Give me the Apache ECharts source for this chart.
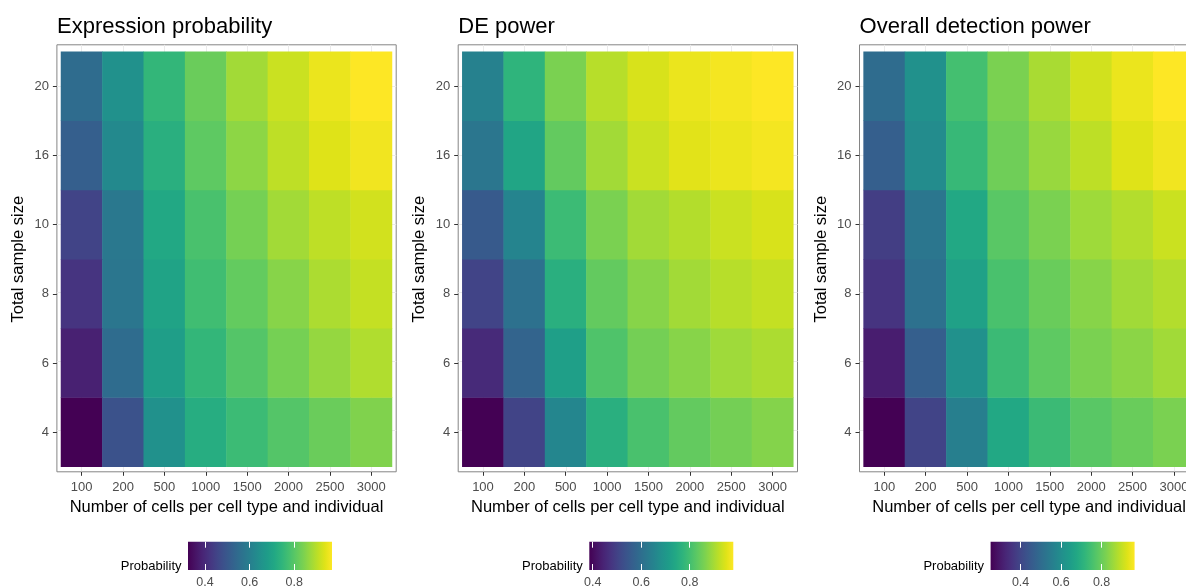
<!DOCTYPE html>
<html>
<head>
<meta charset="utf-8">
<script src="https://cdn.jsdelivr.net/npm/echarts@6/dist/echarts.min.js"></script>
<style>
  html, body { margin: 0; padding: 0; background: #fff; overflow: hidden; }
  #chart { width: 1210px; height: 587px; }
</style>
</head>
<body>
<div id="chart"></div>
<script>
// Categories
const cellCounts = ['100', '200', '500', '1000', '1500', '2000', '2500', '3000'];
const sampleSizes = ['4', '6', '8', '10', '16', '20'];

// Probabilities, one row per total sample size (4 ... 20), columns follow cellCounts
const expressionProb = [
  [0.324, 0.485, 0.647, 0.724, 0.763, 0.795, 0.821, 0.846],
  [0.382, 0.550, 0.685, 0.750, 0.795, 0.834, 0.866, 0.892],
  [0.421, 0.576, 0.698, 0.769, 0.814, 0.853, 0.888, 0.911],
  [0.453, 0.582, 0.711, 0.782, 0.834, 0.879, 0.905, 0.924],
  [0.518, 0.627, 0.730, 0.808, 0.859, 0.905, 0.937, 0.956],
  [0.550, 0.647, 0.750, 0.821, 0.879, 0.917, 0.950, 0.969]
];
const dePower = [
  [0.386, 0.505, 0.659, 0.760, 0.808, 0.837, 0.855, 0.870],
  [0.457, 0.576, 0.719, 0.814, 0.855, 0.873, 0.894, 0.906],
  [0.505, 0.606, 0.760, 0.837, 0.873, 0.897, 0.915, 0.927],
  [0.552, 0.653, 0.790, 0.861, 0.897, 0.912, 0.932, 0.944],
  [0.618, 0.736, 0.837, 0.897, 0.932, 0.953, 0.962, 0.971],
  [0.647, 0.772, 0.861, 0.915, 0.944, 0.962, 0.971, 0.980]
];
const overallPower = [
  [0.252, 0.394, 0.558, 0.679, 0.735, 0.778, 0.799, 0.821],
  [0.309, 0.465, 0.608, 0.735, 0.785, 0.821, 0.839, 0.863],
  [0.359, 0.515, 0.657, 0.757, 0.799, 0.835, 0.863, 0.881],
  [0.380, 0.529, 0.679, 0.778, 0.821, 0.860, 0.881, 0.906],
  [0.465, 0.593, 0.728, 0.807, 0.853, 0.892, 0.927, 0.949],
  [0.501, 0.608, 0.750, 0.821, 0.871, 0.913, 0.942, 0.963]
];

const panelTitles = ['Expression probability', 'DE power', 'Overall detection power'];
const panelValues = [expressionProb, dePower, overallPower];
const legendTicks = [0.4, 0.6, 0.8];

// Viridis palette
const viridis = [
  '#440154', '#471365', '#482475', '#463480', '#414487', '#3B528B', '#355F8D',
  '#2F6C8E', '#2A788E', '#25848E', '#21918C', '#1E9C89', '#22A884', '#2FB47C',
  '#44BF70', '#5EC962', '#7AD151', '#9BD93C', '#BDDF26', '#DFE318', '#FDE725'
];

const FONT = 'Liberation Sans, Arial, Helvetica, sans-serif';
const PANEL_STEP = 401.3;

const chart = echarts.init(document.getElementById('chart'), null, { renderer: 'canvas' });

const title = [], grid = [], xAxis = [], yAxis = [], series = [], visualMap = [], graphic = [];

panelValues.forEach((rows, p) => {
  const dx = p * PANEL_STEP;
  const flat = rows.flat();
  const lo = Math.min(...flat);
  const hi = Math.max(...flat);

  title.push({
    text: panelTitles[p],
    left: 52 + dx, top: 11,
    textStyle: { fontFamily: FONT, fontSize: 22, fontWeight: 'normal', color: '#000' }
  });

  // tile area
  const gTiles = grid.length;
  grid.push({ left: 61 + dx, top: 51.7, width: 331, height: 415,
              containLabel: false, outerBoundsMode: 'none' });
  // panel frame (with expansion around the tiles)
  const gFrame = grid.length;
  grid.push({ left: 56.9 + dx, top: 44.8, width: 339.3, height: 427, show: true,
              borderColor: '#858585', borderWidth: 1, backgroundColor: 'transparent',
              outerBoundsMode: 'none' });
  // colour bar
  const gBar = grid.length;
  grid.push({ left: 188 + dx, top: 541.7, width: 144, height: 28.3, outerBoundsMode: 'none' });

  // frame axes: carry the grid lines at category centres
  xAxis.push({
    gridIndex: gFrame, type: 'value', min: 0.4, max: 8.6,
    axisLine: { show: false }, axisLabel: { show: false },
    axisTick: { show: false, customValues: [1, 2, 3, 4, 5, 6, 7, 8] },
    splitLine: { show: true, lineStyle: { color: '#EBEBEB', width: 1 } }
  });
  yAxis.push({
    gridIndex: gFrame, type: 'value', min: 0.4, max: 6.6,
    axisLine: { show: false }, axisLabel: { show: false },
    axisTick: { show: false, customValues: [1, 2, 3, 4, 5, 6] },
    splitLine: { show: true, lineStyle: { color: '#EBEBEB', width: 1 } }
  });

  const xTiles = xAxis.length;
  xAxis.push({
    gridIndex: gTiles, type: 'category', data: cellCounts, offset: 5.1,
    name: 'Number of cells per cell type and individual',
    nameLocation: 'middle', nameGap: 26,
    nameTextStyle: { fontFamily: FONT, fontSize: 16.5, color: '#000' },
    axisLine: { show: false },
    axisTick: { show: true, alignWithLabel: true, length: 4, lineStyle: { color: '#333333' } },
    axisLabel: { fontFamily: FONT, fontSize: 13, color: '#4D4D4D', margin: 9, interval: 0 },
    splitLine: { show: false }
  });
  const yTiles = yAxis.length;
  yAxis.push({
    gridIndex: gTiles, type: 'category', data: sampleSizes, offset: 4.1,
    name: 'Total sample size', nameLocation: 'middle', nameGap: 30,
    nameTextStyle: { fontFamily: FONT, fontSize: 16.5, color: '#000' },
    axisLine: { show: false },
    axisTick: { show: true, alignWithLabel: true, length: 4, lineStyle: { color: '#333333' } },
    axisLabel: { fontFamily: FONT, fontSize: 13, color: '#4D4D4D', margin: 8, interval: 0 },
    splitLine: { show: false }
  });

  // colour bar axes
  const xBar = xAxis.length;
  xAxis.push({
    gridIndex: gBar, type: 'value', min: lo, max: hi, position: 'bottom', z: 10,
    axisLine: { show: false }, splitLine: { show: false },
    axisTick: { show: true, inside: true, length: 6, customValues: legendTicks,
                lineStyle: { color: '#FFFFFF', width: 1 } },
    axisLabel: { show: true, customValues: legendTicks, margin: 6,
                 formatter: v => v.toFixed(1),
                 fontFamily: FONT, fontSize: 12.5, color: '#4D4D4D' }
  });
  xAxis.push({
    gridIndex: gBar, type: 'value', min: lo, max: hi, position: 'top', z: 10,
    axisLine: { show: false }, splitLine: { show: false }, axisLabel: { show: false },
    axisTick: { show: true, inside: true, length: 6, customValues: legendTicks,
                lineStyle: { color: '#FFFFFF', width: 1 } }
  });
  const yBar = yAxis.length;
  yAxis.push({ gridIndex: gBar, type: 'value', min: 0, max: 1, show: false });

  // heatmap tiles
  const data = [];
  rows.forEach((row, yi) => row.forEach((v, xi) => data.push([xi, yi, v])));
  const sIdx = series.length;
  series.push({
    type: 'heatmap', xAxisIndex: xTiles, yAxisIndex: yTiles, data,
    itemStyle: { borderWidth: 0 }, emphasis: { disabled: true }, progressive: 0
  });
  visualMap.push({
    type: 'continuous', show: false, seriesIndex: sIdx, dimension: 2,
    min: lo, max: hi, inRange: { color: viridis }
  });

  // colour bar gradient
  const stops = viridis.map((c, i) => ({ offset: i / (viridis.length - 1), color: c }));
  series.push({
    type: 'custom', xAxisIndex: xBar, yAxisIndex: yBar, data: [[lo, hi]], clip: false, z: 2,
    silent: true,
    renderItem: (params, api) => {
      const a = api.coord([api.value(0), 1]);
      const b = api.coord([api.value(1), 0]);
      return {
        type: 'rect',
        shape: { x: a[0], y: a[1], width: b[0] - a[0], height: b[1] - a[1] },
        style: { fill: new echarts.graphic.LinearGradient(0, 0, 1, 0, stops) }
      };
    }
  });

  graphic.push({
    type: 'text', x: 181.5 + dx, y: 566,
    style: { text: 'Probability', align: 'right', verticalAlign: 'middle',
             font: '13px ' + FONT, fill: '#000' }
  });
});

chart.setOption({
  animation: false,
  backgroundColor: '#FFFFFF',
  title, grid, xAxis, yAxis, series, visualMap, graphic
});
</script>
</body>
</html>
